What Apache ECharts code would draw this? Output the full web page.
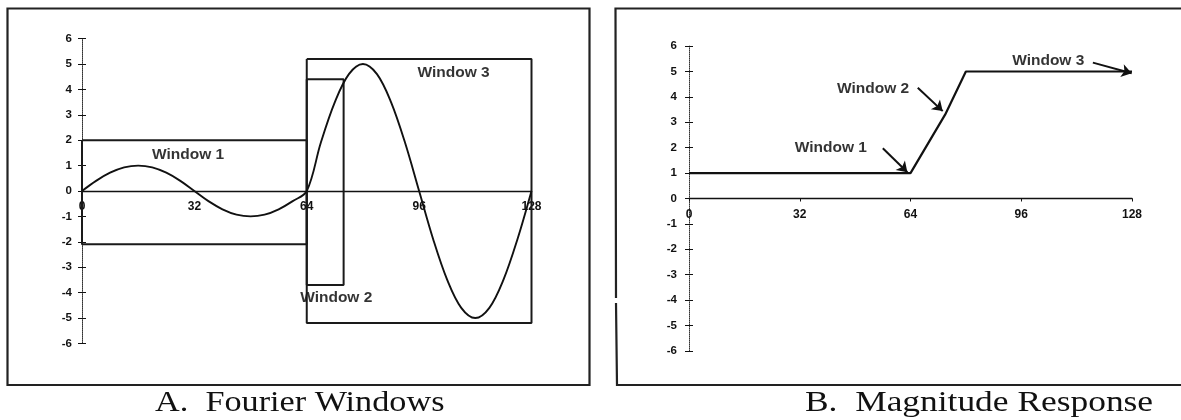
<!DOCTYPE html>
<html><head><meta charset="utf-8">
<script src="https://cdn.jsdelivr.net/npm/echarts@6/dist/echarts.min.js"></script>
<style>html,body{margin:0;padding:0;background:#fff}#c{width:1181px;height:420px}</style>
</head><body><div id="c"></div>
<script>
// ---- shared axis ----
const xMin = 0, xMax = 128, xStep = 32;
const yMin = -6, yMax = 6, yStep = 1;

// ---- Panel A: Fourier windows ----
const signalX = [0,4,8,12,16,20,24,28,32,36,40,44,48,52,56,60,64,68,72,76,80,84,88,92,96,100,104,108,112,116,120,124,128];
const signalY = [0,0.4,0.72,0.93,1,0.93,0.72,0.4,0,-0.4,-0.72,-0.93,-1,-0.93,-0.72,-0.4,0,1.9,3.5,4.6,5,4.6,3.5,1.9,0,-1.9,-3.5,-4.6,-5,-4.6,-3.5,-1.9,0];
const window1 = [[0,2],[64,2],[64,-2.1],[0,-2.1],[0,2]];
const window2 = [[64,4.4],[74.5,4.4],[74.5,-3.7],[64,-3.7],[64,4.4]];
const window3 = [[64,5.2],[128,5.2],[128,-5.2],[64,-5.2],[64,5.2]];
const labelsA = ['Window 1','Window 2','Window 3'];
const labelAX = [30.2, 72.4, 105.8];
const labelAY = [1.42, -4.21, 4.67];

// ---- Panel B: magnitude response ----
const responseX = [0, 64, 74, 80, 128];
const responseY = [1, 1, 3.3, 5, 5];
const labelsB = ['Window 1','Window 2','Window 3'];
const labelBX = [41.0, 53.2, 103.8];
const labelBY = [1.99, 4.31, 5.43];
const arrowFromX = [56.0, 66.1, 116.7];
const arrowFromY = [1.98, 4.36, 5.35];
const arrowToX = [63.1, 73.3, 127.9];
const arrowToY = [1.03, 3.44, 4.93];

const titleA = 'A.  Fourier Windows';
const titleB = 'B.  Magnitude Response';

const INK = '#111';
const sans = '"Liberation Sans", Arial, sans-serif';
const G = [
  { left: 82, top: 38.6, width: 449.5, height: 304.8 },
  { left: 689, top: 46.1, width: 443, height: 304.8 }
];

function xAxisFor(grid, ticks) {
  return {
    type: 'value', gridIndex: grid, min: xMin, max: xMax, interval: xStep,
    position: 'bottom', offset: -G[grid].height / 2,
    axisLine: { show: true, onZero: false, lineStyle: { color: INK, width: 1.3 } },
    axisTick: { show: ticks, length: 3, lineStyle: { color: INK } },
    splitLine: { show: false },
    axisLabel: { color: INK, fontFamily: sans, fontWeight: 'bold', fontSize: 12, margin: 10 }
  };
}
function yAxisFor(grid, margin) {
  return {
    type: 'value', gridIndex: grid, min: yMin, max: yMax, interval: yStep, position: 'left', offset: 0,
    axisLine: { show: true, onZero: false, lineStyle: { color: '#333', width: 1, type: 'dotted' } },
    axisTick: { show: true, inside: false, length: 4, lineStyle: { color: INK, width: 1 } },
    splitLine: { show: false },
    axisLabel: { color: INK, fontFamily: sans, fontWeight: 'bold', fontSize: 11.5, margin: margin }
  };
}
function yTickAxisFor(grid) {
  return {
    type: 'value', gridIndex: grid, min: yMin, max: yMax, interval: yStep, position: 'right', offset: -G[grid].width,
    axisLine: { show: false, onZero: false },
    axisTick: { show: true, inside: false, length: 4, lineStyle: { color: INK, width: 1 } },
    splitLine: { show: false },
    axisLabel: { show: false }
  };
}
function textSeries(x, y, names, xi, yi) {
  return {
    type: 'scatter', xAxisIndex: xi, yAxisIndex: yi, symbolSize: 1,
    itemStyle: { color: 'rgba(0,0,0,0)' }, silent: true,
    data: names.map((n, i) => [x[i], y[i], n]),
    label: { show: true, position: 'inside', formatter: p => p.value[2],
      color: '#000', fontFamily: sans, fontWeight: 'bold', fontSize: 15.5 }
  };
}
function boxSeries(pts) {
  return { type: 'line', xAxisIndex: 0, yAxisIndex: 0, data: pts, showSymbol: false,
    lineStyle: { color: '#1a1a1a', width: 2 }, silent: true };
}

const chart = echarts.init(document.getElementById('c'), null, { renderer: 'canvas' });
chart.setOption({
  animation: false,
  backgroundColor: '#fff',
  grid: G,
  xAxis: [ xAxisFor(0, false), xAxisFor(1, true) ],
  yAxis: [ yAxisFor(0, 10), yTickAxisFor(0), yAxisFor(1, 12), yTickAxisFor(1) ],
  graphic: [
    { type: 'rect', shape: { x: 7.5, y: 8.5, width: 582, height: 376.5 },
      style: { fill: 'none', stroke: '#222', lineWidth: 2.2 } },
    { type: 'polyline', shape: { points: [[616,298],[615.5,8.5],[1195,8.5]] },
      style: { fill: 'none', stroke: '#222', lineWidth: 2.2 } },
    { type: 'polyline', shape: { points: [[616,303],[617,385],[1195,385]] },
      style: { fill: 'none', stroke: '#222', lineWidth: 2.2 } },
    { type: 'text', left: 155, top: 388, scaleX: 1.16,
      style: { text: titleA, font: '29.5px "Liberation Serif", "Times New Roman", serif', fill: INK } },
    { type: 'text', left: 805, top: 388, scaleX: 1.2,
      style: { text: titleB, font: '29.5px "Liberation Serif", "Times New Roman", serif', fill: INK } }
  ],
  series: [
    boxSeries(window1), boxSeries(window2), boxSeries(window3),
    { type: 'line', xAxisIndex: 0, yAxisIndex: 0, smooth: 0.35, showSymbol: false, silent: true,
      data: signalX.map((x, i) => [x, signalY[i]]), lineStyle: { color: INK, width: 1.9 } },
    textSeries(labelAX, labelAY, labelsA, 0, 0),
    { type: 'line', xAxisIndex: 1, yAxisIndex: 2, showSymbol: false, silent: true,
      data: responseX.map((x, i) => [x, responseY[i]]), lineStyle: { color: INK, width: 2.2 },
      markLine: {
        silent: true, symbol: ['none', 'arrow'], symbolSize: 10,
        label: { show: false },
        lineStyle: { color: INK, width: 2, type: 'solid' },
        data: arrowFromX.map((x, i) => [ { coord: [x, arrowFromY[i]] }, { coord: [arrowToX[i], arrowToY[i]] } ])
      } },
    textSeries(labelBX, labelBY, labelsB, 1, 2)
  ]
});
</script></body></html>
